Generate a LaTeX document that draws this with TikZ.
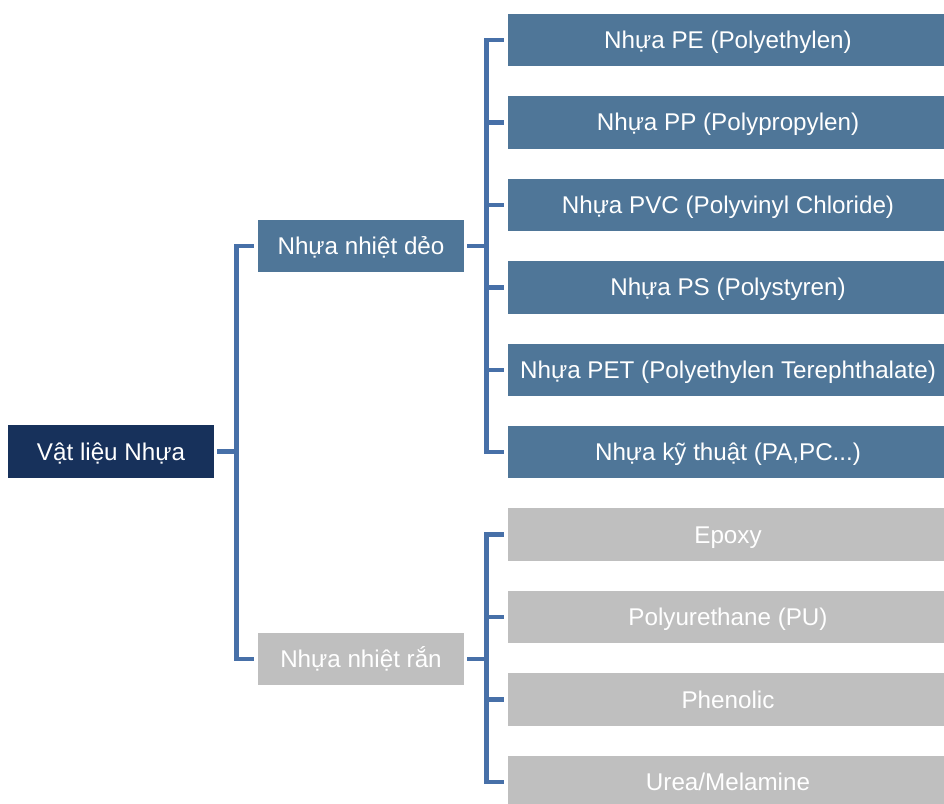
\documentclass[tikz,border=0pt]{standalone}
\usepackage{fontspec}
\setmainfont{Liberation Sans}
\definecolor{rootc}{HTML}{17315B}
\definecolor{bluec}{HTML}{4F7698}
\definecolor{grayc}{HTML}{BFBFBF}
\definecolor{linec}{HTML}{4770A8}
\tikzset{
  box/.style={inner sep=0pt, minimum height=52.5pt, text=white, font=\fontsize{24.2}{27}\selectfont, text height=17.5pt, text depth=0.5pt, anchor=center},
  rootbox/.style={box, fill=rootc, minimum width=206pt},
  midbox/.style={box, minimum width=206pt},
  leafbox/.style={box, minimum width=440pt},
  conn/.style={draw=linec, line width=4.4pt, line join=miter, line cap=rect}
}
\begin{document}
\begin{tikzpicture}[x=1pt,y=-1pt]
\useasboundingbox (0,0) rectangle (944,803);
\clip (0,0) rectangle (944,803);
\node[rootbox] (root) at (111,451.5) {Vật liệu Nhựa};
\node[midbox, fill=bluec] (deo) at (361,246) {Nhựa nhiệt dẻo};
\node[midbox, fill=grayc] (ran) at (361,659) {Nhựa nhiệt rắn};
\node[leafbox, fill=bluec] (l1) at (728,40) {Nhựa PE (Polyethylen)};
\node[leafbox, fill=bluec] (l2) at (728,122.4) {Nhựa PP (Polypropylen)};
\node[leafbox, fill=bluec] (l3) at (728,204.9) {Nhựa PVC (Polyvinyl Chloride)};
\node[leafbox, fill=bluec] (l4) at (728,287.3) {Nhựa PS (Polystyren)};
\node[leafbox, fill=bluec] (l5) at (728,369.8) {Nhựa PET (Polyethylen Terephthalate)};
\node[leafbox, fill=bluec] (l6) at (728,452.2) {Nhựa kỹ thuật (PA,PC...)};
\node[leafbox, fill=grayc] (g1) at (728,534.6) {Epoxy};
\node[leafbox, fill=grayc] (g2) at (728,617.1) {Polyurethane (PU)};
\node[leafbox, fill=grayc] (g3) at (728,699.5) {Phenolic};
\node[leafbox, fill=grayc] (g4) at (728,782) {Urea/Melamine};
% root bracket
\coordinate (v1) at (236.5,451.5);
\draw[conn] ([xshift=5pt]root.east) -- (v1);
\draw[conn] ([xshift=-6pt]deo.west) -| (v1 |- ran.west) -- ([xshift=-6pt]ran.west);
% deo bracket
\coordinate (v2) at (486.5,246);
\draw[conn] ([xshift=5pt]deo.east) -- (v2);
\draw[conn] ([xshift=-6pt]l1.west) -| (v2 |- l6.west) -- ([xshift=-6pt]l6.west);
\foreach \n in {l2,l3,l4,l5}{\draw[conn] ([xshift=-6pt]\n.west) -- (v2 |- \n.west);}
% ran bracket
\coordinate (v3) at (486.5,659);
\draw[conn] ([xshift=5pt]ran.east) -- (v3);
\draw[conn] ([xshift=-6pt]g1.west) -| (v3 |- g4.west) -- ([xshift=-6pt]g4.west);
\foreach \n in {g2,g3}{\draw[conn] ([xshift=-6pt]\n.west) -- (v3 |- \n.west);}
\end{tikzpicture}
\end{document}
